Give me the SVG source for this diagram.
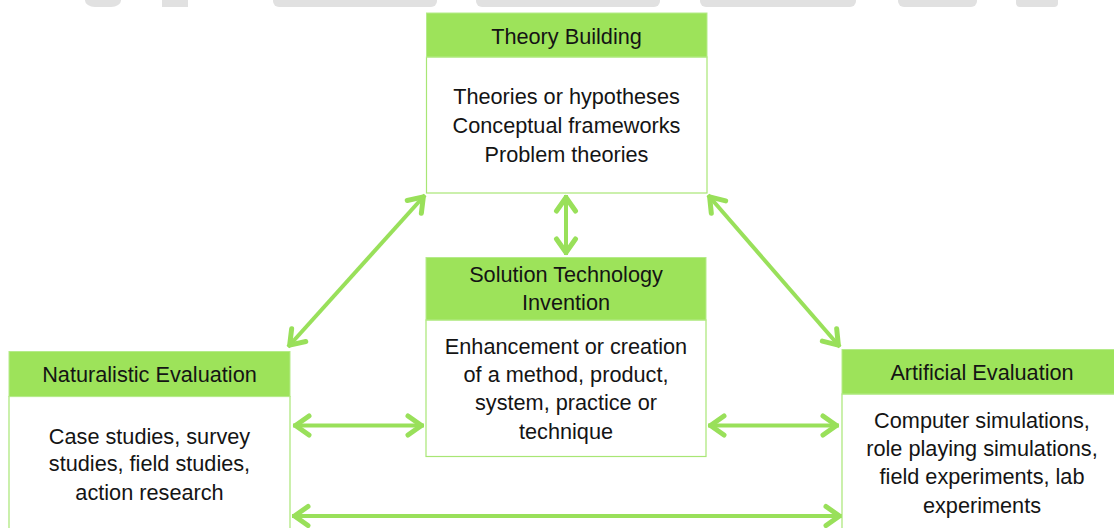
<svg xmlns="http://www.w3.org/2000/svg" width="1114" height="528" viewBox="0 0 1114 528">
  <style>
    .hdr { fill: #9de35a; stroke: #b5eb8a; stroke-width: 1; }
    .body { fill: #ffffff; stroke: #a8e675; stroke-width: 1.2; }
    .t { font-family: "Liberation Sans", Arial, sans-serif; font-size: 21.7px; fill: #141414; text-anchor: middle; }
    .conn { stroke: #99e05a; stroke-width: 4; fill: none; marker-start: url(#ah); marker-end: url(#ah); }
    .wm { fill: #e1e1e1; }
  </style>
  <defs>
    <marker id="ah" viewBox="-20 -15 30 30" markerWidth="30" markerHeight="30" refX="0" refY="0" markerUnits="userSpaceOnUse" orient="auto-start-reverse">
      <path d="M-16,-9.5 L-2.5,0 L-16,9.5" fill="none" stroke="#99e05a" stroke-width="5" stroke-linecap="round" stroke-linejoin="round"/>
    </marker>
  </defs>
  <rect width="1114" height="528" fill="#ffffff"/>
  <g id="watermark">
    <rect class="wm" x="85" y="-6" width="36" height="13" rx="10"/>
    <rect class="wm" x="162" y="-6" width="26" height="13"/>
    <rect class="wm" x="273" y="-6" width="164" height="13" rx="6"/>
    <rect class="wm" x="476" y="-6" width="184" height="13" rx="6"/>
    <rect class="wm" x="700" y="-6" width="156" height="13" rx="6"/>
    <rect class="wm" x="898" y="-6" width="79" height="13" rx="6"/>
    <rect class="wm" x="1016" y="-6" width="42" height="13" rx="4"/>
  </g>
  <g id="connectors">
    <line class="conn" x1="566" y1="195" x2="566" y2="255"/>
    <line class="conn" x1="425" y1="195" x2="288" y2="347"/>
    <line class="conn" x1="708" y1="195" x2="840" y2="347"/>
    <line class="conn" x1="293" y1="425.5" x2="424" y2="425.5"/>
    <line class="conn" x1="708" y1="425.5" x2="839" y2="425.5"/>
    <line class="conn" x1="292" y1="516" x2="842" y2="516"/>
  </g>
  <g id="theory-building">
    <rect class="body" x="426.5" y="57" width="280.5" height="136"/>
    <rect class="hdr" x="426.5" y="13" width="280.5" height="44"/>
    <text class="t" x="566.5" y="44">Theory Building</text>
    <text class="t" x="566.5" y="104">Theories or hypotheses</text>
    <text class="t" x="566.5" y="132.5">Conceptual frameworks</text>
    <text class="t" x="566.5" y="161.5">Problem theories</text>
  </g>
  <g id="solution-technology">
    <rect class="body" x="426" y="320" width="280" height="136.5"/>
    <rect class="hdr" x="426" y="257.5" width="280" height="62.5"/>
    <text class="t" x="566" y="282">Solution Technology</text>
    <text class="t" x="566" y="309.5">Invention</text>
    <text class="t" x="566" y="353.5">Enhancement or creation</text>
    <text class="t" x="566" y="382">of a method, product,</text>
    <text class="t" x="566" y="410">system, practice or</text>
    <text class="t" x="566" y="438.5">technique</text>
  </g>
  <g id="naturalistic-evaluation">
    <rect class="body" x="9" y="396.5" width="281" height="140"/>
    <rect class="hdr" x="9" y="351.5" width="281" height="45"/>
    <text class="t" x="149.5" y="382">Naturalistic Evaluation</text>
    <text class="t" x="149.5" y="443.5">Case studies, survey</text>
    <text class="t" x="149.5" y="471">studies, field studies,</text>
    <text class="t" x="149.5" y="499.5">action research</text>
  </g>
  <g id="artificial-evaluation">
    <rect class="body" x="842" y="394" width="290" height="145"/>
    <rect class="hdr" x="842" y="349.5" width="290" height="44.5"/>
    <text class="t" x="982" y="379.5">Artificial Evaluation</text>
    <text class="t" x="982" y="427.5">Computer simulations,</text>
    <text class="t" x="982" y="455.5">role playing simulations,</text>
    <text class="t" x="982" y="484">field experiments, lab</text>
    <text class="t" x="982" y="513">experiments</text>
  </g>
</svg>
